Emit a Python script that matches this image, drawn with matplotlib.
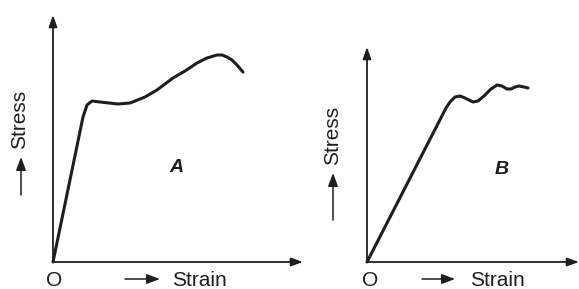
import matplotlib
matplotlib.use("Agg")
import matplotlib.pyplot as plt

# ---- data (arbitrary units) ----
strain_a = [0, 30, 34, 39, 47, 65, 77, 92, 104, 120, 132, 144, 154, 164, 169, 174, 179, 184, 190]
stress_a = [0, 145, 157, 161, 160, 158, 159, 165, 172, 184, 191, 199, 204, 207, 207, 205, 202, 197, 190]

strain_b = [0, 79, 83, 88, 93, 98, 106, 111, 117, 124, 130, 135, 140, 144, 148, 152, 157, 161]
stress_b = [0, 154, 160, 165, 166, 164, 160, 161, 166, 173, 177, 176, 173, 173, 175, 176, 175, 174]

panel_labels = ["A", "B"]
x_label = "Strain"
y_label = "Stress"
origin_label = "O"

plt.rcParams['font.family'] = ['Liberation Sans', 'DejaVu Sans']
INK = "#1e1e1e"

fig = plt.figure(figsize=(5.79, 2.89), dpi=100)

def panel(ax, sx, sy, label, ytop, xend, lab_xy, stress_arrow, stress_txt, strain_arrow, strain_txt_x, o_x):
    ax.set_axis_off()
    ax.plot(sx, sy, color=INK, lw=2.2, solid_capstyle='round', solid_joinstyle='round', clip_on=False)
    ap = dict(arrowstyle="-|>,head_length=0.7,head_width=0.25", color=INK, lw=1.3,
              shrinkA=0, shrinkB=0, mutation_scale=10)
    ax.annotate("", xy=(0, ytop), xytext=(0, 0), arrowprops=ap, annotation_clip=False)
    ax.annotate("", xy=(xend, 0), xytext=(0, 0), arrowprops=ap, annotation_clip=False)
    ax.text(lab_xy[0], lab_xy[1], label, fontsize=14, style='italic', fontweight='bold', color=INK,
            ha='center', va='center')
    # stress label with small arrow
    ap2 = dict(arrowstyle="-|>,head_length=0.8,head_width=0.3", color=INK, lw=1.1,
               shrinkA=0, shrinkB=0, mutation_scale=10)
    ax.annotate("", xy=stress_arrow[1], xytext=stress_arrow[0], arrowprops=ap2, annotation_clip=False)
    ax.text(stress_txt[0], stress_txt[1], y_label, rotation=90, fontsize=15, color=INK,
            ha='center', va='center')
    ax.annotate("", xy=strain_arrow[1], xytext=strain_arrow[0], arrowprops=ap2, annotation_clip=False)
    ax.text(strain_txt_x, -18, x_label, fontsize=15, color=INK, ha='left', va='center')
    ax.text(o_x, -18, origin_label, fontsize=15, color=INK, ha='center', va='center')

axA = fig.add_axes([0, 0, 290 / 579, 1])
axA.set_xlim(-53, 237)
axA.set_ylim(-27, 262)
panel(axA, strain_a, stress_a, panel_labels[0], 247, 250, (123, 94),
      ((-32, 67), (-32, 105)), (-33, 143), ((72, -17), (107, -17)), 119, 1)

axB = fig.add_axes([290 / 579, 0, 289 / 579, 1])
axB.set_xlim(-77, 212)
axB.set_ylim(-27, 262)
panel(axB, strain_b, stress_b, panel_labels[1], 215, 212, (135, 92),
      ((-34, 42), (-34, 89)), (-34, 127), ((55, -17), (88, -17)), 103, 3)

fig.savefig("out.png", dpi=100)
